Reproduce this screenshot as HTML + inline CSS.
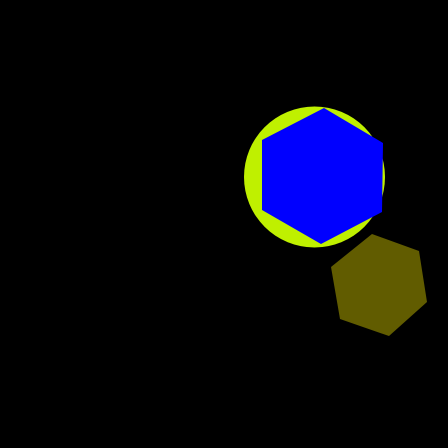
<!DOCTYPE html>
<html><head><meta charset="utf-8"><style>html,body{margin:0;padding:0;background:#000;}svg{display:block}</style></head>
<body>
<svg width="448" height="448" viewBox="0 0 448 448">
<rect width="448" height="448" fill="#000"/>
<circle cx="314.5" cy="177" r="70.5" fill="#bff000"/>
<polygon points="324,108 383,143 382,212 321,244 262,210 262,140" fill="#0000ff"/>
<polygon points="372,234 419,251 427,302 389,336 340,319 331,267" fill="#615c00"/>
</svg>
</body></html>
